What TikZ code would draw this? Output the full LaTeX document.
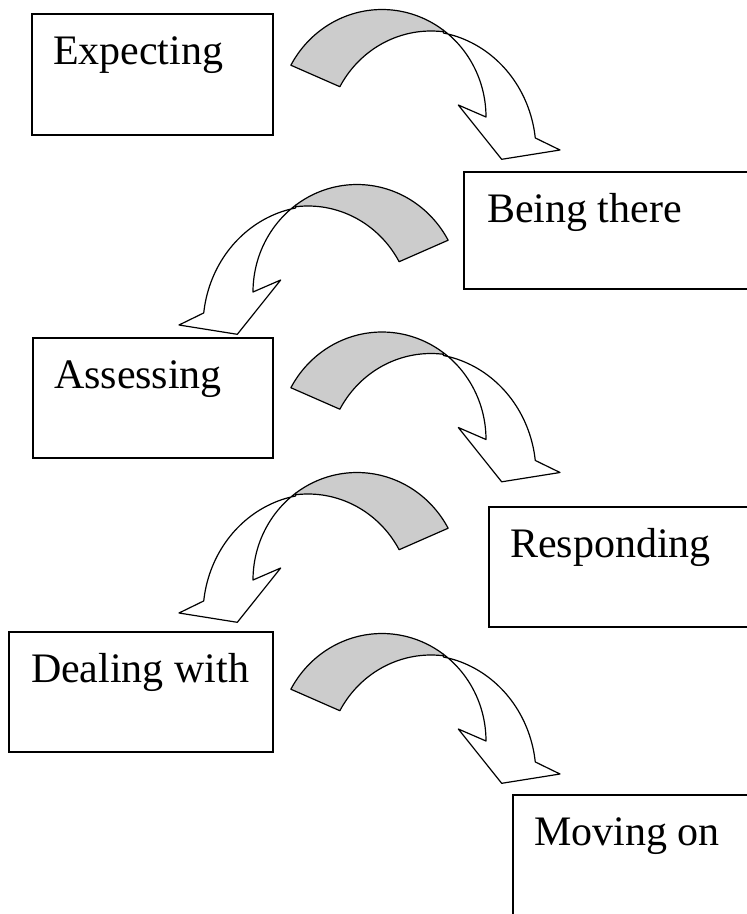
\documentclass[tikz,border=0pt]{standalone}
\usepackage{fontspec}
\setmainfont{Liberation Serif}
\usetikzlibrary{calc}

\tikzset{
  box/.style={draw=black, line width=1.3pt, fill=white, anchor=north west,
              inner sep=0pt, outer sep=0pt},
  lbl/.style={anchor=base west, inner sep=0pt, outer sep=0pt,
              font=\fontsize{42}{50}\selectfont},
  arrowfront/.style={draw=black, fill=white, line width=1.2pt, line join=round},
  arrowback/.style={draw=black, fill=black!20, line width=1.2pt, line join=round},
}

% Curved block arrow.
% Front (white) band runs from the top crossing point down to the head,
% back (grey) band runs from the lower-left cut up to the crossing point.
\newcommand\bendarrow{%
  \filldraw[arrowfront]
    plot[domain=79.6:6.5, samples=40] ({423+113*cos(\x)}, {151.6-120.6*sin(\x)})
    -- (560,150) -- (501.7,159.3) -- (458.3,105) -- (486,117)
    -- plot[domain=0:53.9, samples=40] ({382+104*cos(\x)}, {117-107.5*sin(\x)})
    -- cycle;
  \filldraw[arrowback]
    plot[domain=151.2:53.9, samples=60] ({382+104*cos(\x)}, {117-107.5*sin(\x)})
    -- plot[domain=83.2:151.2, samples=60] ({431+104*cos(\x)}, {138.5-107.5*sin(\x)})
    -- cycle;
}

\begin{document}
\begin{tikzpicture}[x=1pt, y=-1pt]
  \clip (0,0) rectangle (747,914);
  \fill[white] (0,0) rectangle (747,914);

  % stage boxes
  \node[box, minimum width=241, minimum height=121] (b1) at (32,14) {};
  \node[box, minimum width=300, minimum height=117] (b2) at (464,172) {};
  \node[box, minimum width=240, minimum height=120] (b3) at (33,338) {};
  \node[box, minimum width=280, minimum height=120] (b4) at (489,507) {};
  \node[box, minimum width=264, minimum height=120] (b5) at (9,632) {};
  \node[box, minimum width=260, minimum height=150] (b6) at (513,795) {};

  % stage labels
  \node[lbl] (t1) at ($(b1.north west)+(21,50)$) {Expecting};
  \node[lbl] (t2) at ($(b2.north west)+(23,50)$) {Being there};
  \node[lbl] (t3) at ($(b3.north west)+(21,50)$) {Assessing};
  \node[lbl] (t4) at ($(b4.north west)+(21,50)$) {Responding};
  \node[lbl] (t5) at ($(b5.north west)+(22,50)$) {Dealing with};
  \node[lbl] (t6) at ($(b6.north west)+(21,50)$) {Moving on};

  % curved arrows between the stages
  \begin{scope}\bendarrow\end{scope}
  \begin{scope}[shift={(739,175)}, xscale=-1]\bendarrow\end{scope}
  \begin{scope}[shift={(0,322.5)}]\bendarrow\end{scope}
  \begin{scope}[shift={(739,463)}, xscale=-1]\bendarrow\end{scope}
  \begin{scope}[shift={(0,624)}]\bendarrow\end{scope}
\end{tikzpicture}
\end{document}
